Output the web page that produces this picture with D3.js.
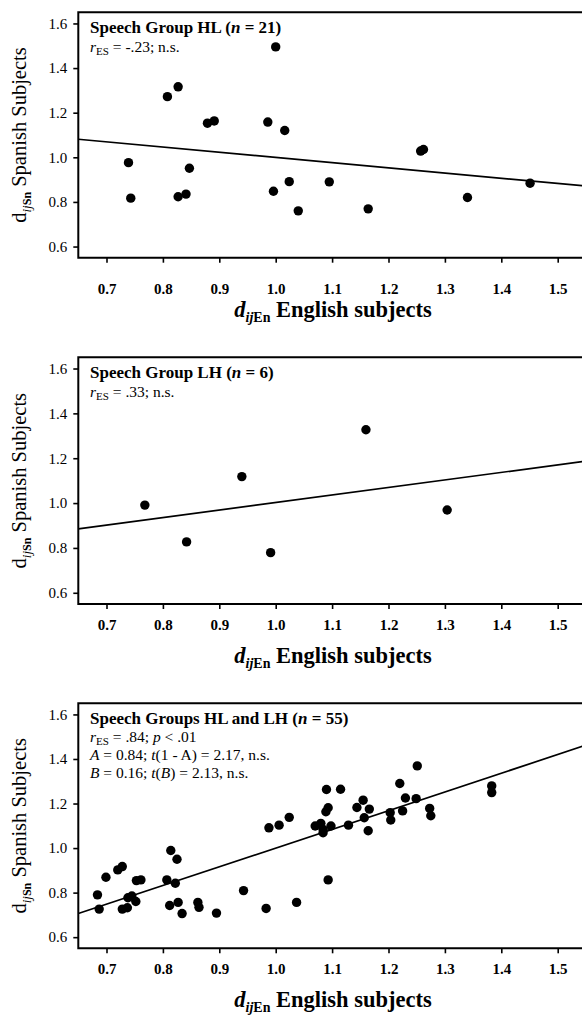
<!DOCTYPE html>
<html><head><meta charset="utf-8">
<script src="https://cdn.jsdelivr.net/npm/d3@7/dist/d3.min.js"></script>
</head><body style="margin:0;padding:0;background:#fff">
<svg id="chart" width="582" height="1016" style="display:block"></svg>
<script>
// ---- data ----
const xTicks = [0.7, 0.8, 0.9, 1.0, 1.1, 1.2, 1.3, 1.4, 1.5];
const yTicks = [0.6, 0.8, 1.0, 1.2, 1.4, 1.6];

const hlEnglish = [1.000, 0.808, 0.827, 0.879, 0.891, 0.986, 1.016, 1.257, 1.262, 0.739, 0.743,
                   0.827, 0.841, 0.847, 0.996, 1.024, 1.040, 1.095, 1.164, 1.340, 1.451];
const hlSpanish = [1.495, 1.272, 1.316, 1.153, 1.163, 1.158, 1.120, 1.028, 1.035, 0.976, 0.817,
                   0.823, 0.835, 0.951, 0.848, 0.891, 0.760, 0.890, 0.769, 0.820, 0.884];
const hlFit = [[0.65, 1.081], [1.55, 0.871]];

const lhEnglish = [0.768, 0.842, 0.940, 0.991, 1.160, 1.304];
const lhSpanish = [0.991, 0.827, 1.118, 0.779, 1.327, 0.969];
const lhFit = [[0.65, 0.885], [1.55, 1.187]];

const allEnglish = [0.988, 1.006, 1.024, 1.070, 1.080, 1.084, 1.084, 1.098, 1.090, 1.089, 1.093,
                    1.115, 1.129, 1.144, 1.155, 1.166, 1.157, 1.164, 1.203, 1.204, 1.220, 1.225,
                    1.230, 1.249, 1.251, 1.273, 1.275, 1.383, 1.383,
                    0.684, 0.687, 0.699, 0.720, 0.728, 0.728, 0.737, 0.738, 0.745, 0.752, 0.753,
                    0.761, 0.807, 0.814, 0.812, 0.822, 0.825, 0.827, 0.834, 0.862, 0.864, 0.895,
                    0.943, 0.983, 1.037, 1.093];
const allSpanish = [1.091, 1.103, 1.138, 1.099, 1.111, 1.084, 1.069, 1.099, 1.263, 1.163, 1.181,
                    1.264, 1.103, 1.182, 1.215, 1.175, 1.136, 1.078, 1.159, 1.126, 1.290, 1.167,
                    1.225, 1.222, 1.369, 1.178, 1.145, 1.279, 1.249,
                    0.790, 0.726, 0.869, 0.902, 0.917, 0.726, 0.732, 0.777, 0.785, 0.760, 0.854,
                    0.857, 0.857, 0.989, 0.742, 0.842, 0.950, 0.756, 0.706, 0.756, 0.734, 0.708,
                    0.809, 0.729, 0.756, 0.857];
const allFit = [[0.65, 0.706], [1.55, 1.462]];

// ---- drawing ----
const FONT = "Liberation Serif";
const svg = d3.select("#chart").attr("font-family", FONT);
svg.append("rect").attr("width", 582).attr("height", 1016).attr("fill", "#fff");

const xDomain = [0.65, 1.55];
const yDomain = [0.55, 1.65];
const left = 78.3, right = 585.9;

function addRich(sel, parts) {
  parts.forEach(p => {
    const t = sel.append("tspan").text(p.t);
    if (p.i) t.attr("font-style", "italic");
    if (p.b) t.attr("font-weight", "bold");
    if (p.s) t.attr("font-size", p.s);
    if (p.dy) t.attr("dy", p.dy);
  });
}

function panel(cfg) {
  const x = d3.scaleLinear().domain(xDomain).range([left, right]);
  const y = d3.scaleLinear().domain(yDomain).range([cfg.bottom, cfg.top]);
  const g = svg.append("g").attr("font-family", FONT);

  g.append("path")
    .datum(cfg.fit)
    .attr("d", d3.line().x(d => x(d[0])).y(d => y(d[1])))
    .attr("fill", "none").attr("stroke", "#000").attr("stroke-width", 1.7);

  g.selectAll("circle.pt").data(cfg.xs.map((v, i) => [v, cfg.ys[i]]))
    .join("circle").attr("class", "pt")
    .attr("cx", d => x(d[0])).attr("cy", d => y(d[1])).attr("r", 4.7)
    .attr("fill", "#000");

  g.append("path")
    .attr("d", `M${right},${cfg.top}H${left}V${cfg.bottom}H${right}`)
    .attr("fill", "none").attr("stroke", "#000").attr("stroke-width", 2);

  const ya = g.append("g").attr("transform", `translate(${left},0)`)
    .call(d3.axisLeft(y).tickValues(yTicks).tickSize(5).tickPadding(6).tickFormat(d3.format(".1f")));
  ya.attr("font-family", FONT).attr("font-size", 15);
  ya.select(".domain").remove();
  ya.selectAll("line").attr("stroke-width", 1.6);
  ya.selectAll("text").attr("font-family", FONT).attr("font-size", 15).attr("fill", "#000");

  const xa = g.append("g").attr("transform", `translate(0,${cfg.bottom})`)
    .call(d3.axisBottom(x).tickValues(xTicks).tickSize(5).tickPadding(cfg.xPad).tickFormat(d3.format(".1f")));
  xa.attr("font-family", FONT).attr("font-size", 15);
  xa.select(".domain").remove();
  xa.selectAll("line").attr("stroke-width", 1.6);
  xa.selectAll("text").attr("font-family", FONT).attr("font-size", 15).attr("font-weight", "bold").attr("fill", "#000");

  cfg.notes.forEach((parts, i) => {
    const t = g.append("text").attr("x", 90).attr("y", cfg.noteY[i])
      .attr("font-family", FONT)
      .attr("font-size", i === 0 ? 17 : 15.5).attr("font-weight", i === 0 ? "bold" : "normal");
    addRich(t, parts);
  });

  const xt = g.append("text").attr("x", 333).attr("y", cfg.bottom + 59)
    .attr("font-family", FONT)
    .attr("text-anchor", "middle").attr("font-size", 22.5).attr("font-weight", "bold");
  addRich(xt, [{t: "d", i: true}, {t: "ij", i: true, s: 14, dy: 5}, {t: "En", s: 14},
               {t: " English subjects", dy: -5}]);

  const yt = g.append("text")
    .attr("font-family", FONT)
    .attr("transform", `translate(26,${(cfg.top + cfg.bottom) / 2}) rotate(-90)`)
    .attr("text-anchor", "middle").attr("font-size", 20.5);
  addRich(yt, [{t: "d"}, {t: "ij", i: true, s: 13, dy: 5}, {t: "Sn", b: true, s: 12},
               {t: " Spanish Subjects", dy: -5}]);
}

const rParts = (rest) => [{t: "r", i: true}, {t: "ES", s: 11, dy: 2.5}, {t: rest[0], dy: -2.5}].concat(rest.slice(1));

panel({
  top: 12.3, bottom: 257.7, xPad: 21,
  xs: hlEnglish, ys: hlSpanish, fit: hlFit,
  noteY: [33, 52],
  notes: [
    [{t: "Speech Group HL ("}, {t: "n", i: true}, {t: " = 21)"}],
    rParts([" = -.23; n.s."])
  ]
});

panel({
  top: 357.3, bottom: 604, xPad: 10,
  xs: lhEnglish, ys: lhSpanish, fit: lhFit,
  noteY: [378, 397],
  notes: [
    [{t: "Speech Group LH ("}, {t: "n", i: true}, {t: " = 6)"}],
    rParts([" = .33; n.s."])
  ]
});

panel({
  top: 703.3, bottom: 948.3, xPad: 10,
  xs: allEnglish, ys: allSpanish, fit: allFit,
  noteY: [724, 742, 760, 778],
  notes: [
    [{t: "Speech Groups HL and LH ("}, {t: "n", i: true}, {t: " = 55)"}],
    rParts([" = .84; "]).concat([{t: "p", i: true}, {t: " < .01"}]),
    [{t: "A", i: true}, {t: " = 0.84; "}, {t: "t", i: true}, {t: "(1 - A) = 2.17, n.s."}],
    [{t: "B", i: true}, {t: " = 0.16; "}, {t: "t", i: true}, {t: "("}, {t: "B", i: true}, {t: ") = 2.13, n.s."}]
  ]
});
</script>
</body></html>
